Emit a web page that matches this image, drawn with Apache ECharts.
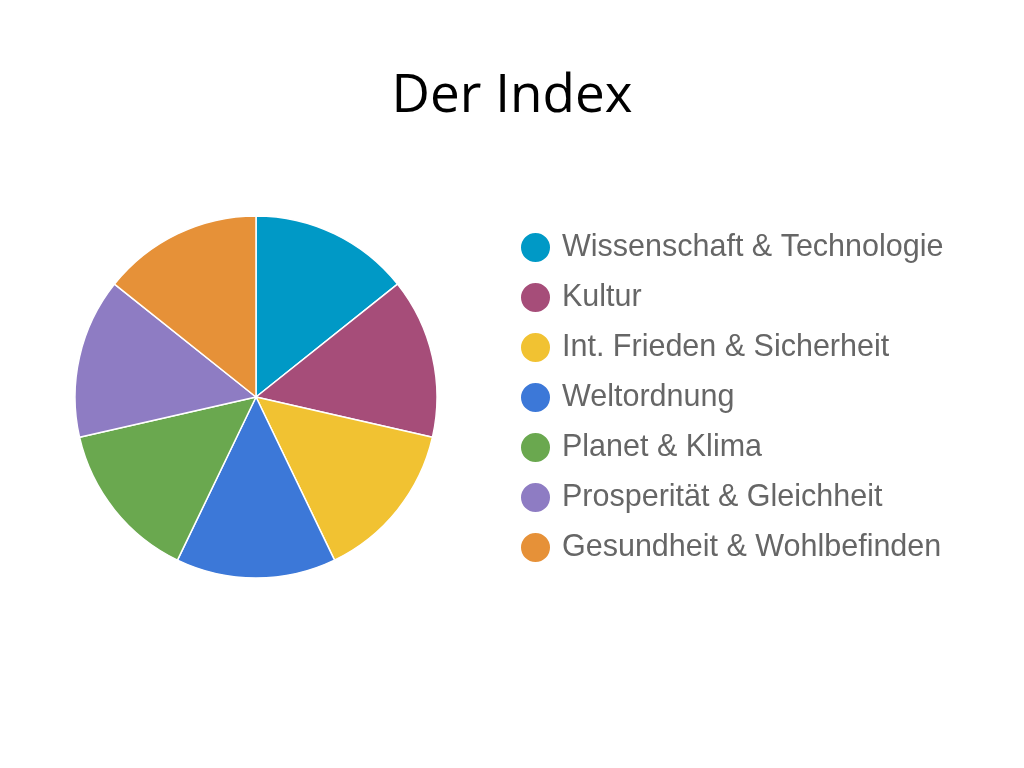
<!DOCTYPE html>
<html><head><meta charset="utf-8">
<script src="https://cdn.jsdelivr.net/npm/echarts@6/dist/echarts.min.js"></script>
<style>html,body{margin:0;padding:0;background:#fff}#c{width:1024px;height:768px}</style>
</head><body><div id="c"></div>
<script>
const categories = ["Wissenschaft & Technologie","Kultur","Int. Frieden & Sicherheit","Weltordnung","Planet & Klima","Prosperität & Gleichheit","Gesundheit & Wohlbefinden"];
const values = [1,1,1,1,1,1,1];
const colors = ["#0099c6","#a64d79","#f1c232","#3c78d8","#6aa84f","#8e7cc3","#e69138"];
const chart = echarts.init(document.getElementById('c'));
chart.setOption({
  animation:false,
  color: colors,
  title:{text:"Der Index",left:'center',top:70,padding:0,textStyle:{fontFamily:"Open Sans",fontWeight:'normal',fontSize:53,color:'#000'}},
  legend:{orient:'vertical',left:519,top:231,padding:0,itemWidth:31,itemHeight:31,itemGap:17,icon:'circle',
    textStyle:{fontFamily:"Liberation Sans",fontSize:30.5,lineHeight:31,color:'#666',padding:[0,0,0,6]},
    data:categories},
  series:[{type:'pie',center:[256,397],radius:181,startAngle:90,clockwise:true,
    label:{show:false},labelLine:{show:false},
    itemStyle:{borderColor:'#fff',borderWidth:1.5},
    data:categories.map((n,i)=>({name:n,value:values[i]}))}]
});
</script></body></html>
